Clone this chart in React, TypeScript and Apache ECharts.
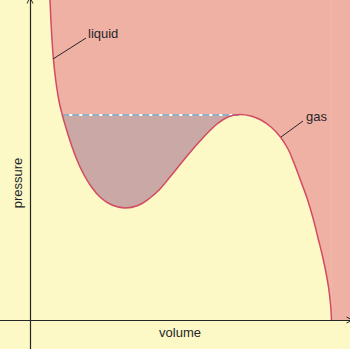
import React, { useEffect, useRef } from "react";
import * as echarts from "echarts";

// Isotherm (volume, pressure in arbitrary units 0..100)
const volume = [6.25, 6.53, 6.88, 7.34, 8.03, 9.0, 10.09, 11.44, 12.94, 14.69, 16.72, 19.22, 22.19, 25.63, 29.69, 33.75, 37.5, 40.63, 43.75, 47.81, 53.13, 58.44, 62.19, 65.63, 69.06, 72.19, 75.31, 78.13, 80.63, 82.5, 84.38, 86.56, 88.44, 90.0, 91.25, 92.34, 93.28, 93.91, 94.22];
const pressure = [100, 93.75, 87.5, 81.25, 75.0, 68.75, 64.06, 59.38, 54.69, 50.0, 45.63, 41.56, 38.13, 35.94, 35.0, 35.78, 38.13, 40.94, 44.69, 49.69, 55.94, 61.25, 63.59, 64.22, 63.75, 62.5, 60.31, 57.34, 53.44, 49.06, 44.06, 38.13, 31.88, 25.63, 20.63, 15.63, 10.31, 5.0, 0];
// Coexistence (dashed) line: start and end index on the curve
const tieStart = 6;
const tieEnd = 23;
const tiePressure = 64.1;
const axisLabels = { x: "volume", y: "pressure" };
const phaseLabels = ["liquid", "gas"];

const YELLOW = "#fcf9c6";
const PINK = "#f0b1a5";
const MAUVE = "#c9a8a5";
const RED = "#d44a62";
const INK = "#262626";
const FONT = '13px "Liberation Sans", Arial, sans-serif';

const chevron = "path://M0,10 L5,0 L10,10 L8.6,10 L5,2.6 L1.4,10 Z";

export default function App() {
  const ref = useRef<HTMLDivElement>(null);
  useEffect(() => {
    document.body.style.margin = "0";
    const chart = echarts.init(ref.current!, null, { renderer: "svg" });
    const curve = volume.map((v, i) => [v, pressure[i]]);
    const shade = curve.slice(tieStart, tieEnd + 1);
    const lastV = volume[volume.length - 1];
    const SMOOTH = 0.4;
    const option: any = {
      animation: false,
      backgroundColor: YELLOW,
      grid: { left: 0, right: 0, top: 0, bottom: 0 },
      xAxis: {
        type: "value",
        min: -9.375,
        max: 100,
        z: 10,
        axisLine: {
          show: true,
          onZero: true,
          symbol: ["none", chevron],
          symbolSize: [8, 7],
          lineStyle: { color: INK, width: 1.2 },
        },
        axisTick: { show: false },
        axisLabel: { show: false },
        splitLine: { show: false },
      },
      yAxis: {
        type: "value",
        min: -9.0625,
        max: 100,
        z: 10,
        axisLine: {
          show: true,
          onZero: true,
          symbol: ["none", chevron],
          symbolSize: [8, 7],
          lineStyle: { color: INK, width: 1.2 },
        },
        axisTick: { show: false },
        axisLabel: { show: false },
        splitLine: { show: false },
      },
      series: [
        {
          type: "line",
          data: curve,
          smooth: SMOOTH,
          symbol: "none",
          lineStyle: { width: 0, opacity: 0 },
          areaStyle: { color: PINK, opacity: 1, origin: "end" },
          z: 1,
          markArea: {
            silent: true,
            itemStyle: { color: PINK, opacity: 1 },
            data: [[{ xAxis: lastV - 0.1, yAxis: 0 }, { xAxis: 100, yAxis: 100 }]],
          },
        },
        {
          type: "custom",
          data: shade,
          encode: { x: 0, y: 1 },
          z: 2,
          renderItem: (params: any, api: any) => {
            if (params.dataIndex !== 0) return null;
            const pts = shade.map((d, i) =>
              api.coord(i === 0 || i === shade.length - 1 ? [d[0], tiePressure] : d)
            );
            return { type: "polygon", shape: { points: pts }, style: { fill: MAUVE } };
          },
        },
        {
          type: "line",
          data: [[volume[tieStart], tiePressure], [volume[tieEnd], tiePressure]],
          symbol: "none",
          lineStyle: { color: "#ffffff", width: 2 },
          z: 3,
        },
        {
          type: "line",
          data: [[volume[tieStart], tiePressure], [volume[tieEnd], tiePressure]],
          symbol: "none",
          lineStyle: { color: "#8fb0c6", width: 2, type: [7, 3] },
          z: 4,
        },
        {
          type: "line",
          data: curve,
          smooth: SMOOTH,
          symbol: "none",
          lineStyle: { color: RED, width: 1.5 },
          z: 5,
        },
      ],
      graphic: [
        { type: "line", z: 100, shape: { x1: 53, y1: 59, x2: 86, y2: 38 }, style: { stroke: INK, lineWidth: 1 } },
        { type: "line", z: 100, shape: { x1: 281, y1: 137, x2: 303, y2: 121 }, style: { stroke: INK, lineWidth: 1 } },
        {
          type: "text", z: 100, x: 88, y: 33,
          style: { text: phaseLabels[0], font: FONT, fill: INK, textAlign: "left", align: "left", textVerticalAlign: "middle", verticalAlign: "middle" },
        },
        {
          type: "text", z: 100, x: 306, y: 116,
          style: { text: phaseLabels[1], font: FONT, fill: INK, textAlign: "left", align: "left", textVerticalAlign: "middle", verticalAlign: "middle" },
        },
        {
          type: "text", z: 100, x: 180, y: 332,
          style: { text: axisLabels.x, font: FONT, fill: INK, textAlign: "center", align: "center", textVerticalAlign: "middle", verticalAlign: "middle" },
        },
        {
          type: "text", z: 100, x: 17, y: 183, rotation: Math.PI / 2,
          style: { text: axisLabels.y, font: FONT, fill: INK, textAlign: "center", align: "center", textVerticalAlign: "middle", verticalAlign: "middle" },
        },
      ],
    };
    chart.setOption(option);
    return () => chart.dispose();
  }, []);
  return <div ref={ref} style={{ position: "fixed", left: 0, top: 0, width: 350, height: 349 }} />;
}
